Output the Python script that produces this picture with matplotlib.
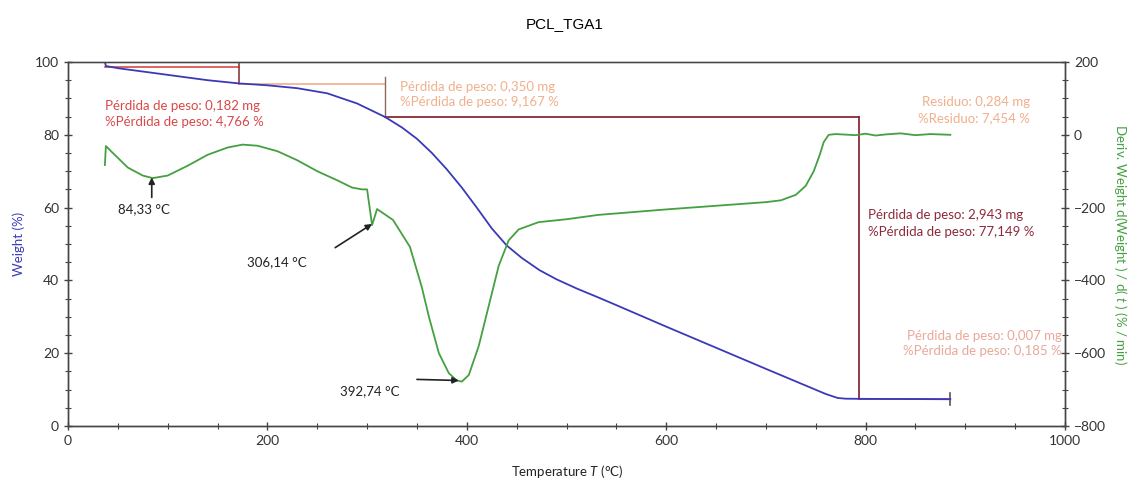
import matplotlib
matplotlib.use("Agg")
import matplotlib.pyplot as plt
from matplotlib.ticker import MultipleLocator

plt.rcParams['font.family'] = ['Lato', 'DejaVu Sans']
plt.rcParams['mathtext.fontset'] = 'custom'
plt.rcParams['mathtext.it'] = 'Lato:italic'
plt.rcParams['mathtext.rm'] = 'Lato'

# ---------------- data ----------------
temp_weight = [37, 38, 50, 80, 110, 140, 172, 200, 230, 260, 290, 318, 335, 350,
               365, 380, 395, 410, 425, 440, 455, 473, 490, 510, 532, 550, 600,
               650, 700, 740, 760, 772, 780, 800, 850, 885]
weight = [100.0, 98.9, 98.3, 97.2, 96.1, 95.0, 94.1, 93.6, 92.8, 91.4, 88.6, 84.9,
          82.0, 78.9, 75.0, 70.5, 65.5, 60.0, 54.3, 49.6, 46.2, 42.8, 40.3, 37.8,
          35.3, 33.2, 27.3, 21.5, 15.7, 11.1, 8.8, 7.7, 7.5, 7.45, 7.4, 7.35]

temp_deriv = [37, 38, 45, 60, 75, 85, 100, 120, 140, 160, 175, 190, 210, 230, 250,
              270, 285, 295, 300, 305, 310, 326, 343, 355, 362, 372, 382, 390, 395,
              402, 412, 422, 432, 442, 452, 472, 500, 532, 600, 650, 700, 715, 730,
              740, 748, 754, 758, 763, 770, 790, 800, 810, 820, 835, 850, 865, 885]
deriv = [-83, -31, -50, -90, -112, -119, -112, -85, -55, -35, -27, -30, -45, -70,
         -100, -125, -145, -150, -150, -248, -204, -234, -308, -420, -500, -600,
         -655, -675, -678, -660, -580, -470, -360, -290, -260, -240, -232, -220,
         -205, -195, -185, -180, -165, -140, -100, -55, -20, 0, 2, -1, 3, -2, 1,
         4, -1, 2, 0]

# step annotation segments (temperature, weight)
step1_t = [37, 172]
step1_w = [98.6, 98.6]
step1_v = [100, 94.0]
step2_t = [172, 318]
step2_w = [94.0, 94.0]
step2_v = [95.8, 84.9]
step3_t = [318, 793]
step3_w = [84.9, 84.9]
step3_v = [84.9, 7.45]
step4_t = [793, 885]
step4_w = [7.45, 7.45]

peak_labels = ["84,33 °C", "306,14 °C", "392,74 °C"]

# ---------------- figure ----------------
fig = plt.figure(figsize=(11.29, 4.8), dpi=100)
ax = fig.add_axes([68/1129, 1 - 426/480, (1065 - 68)/1129, (426 - 62)/480])
ax2 = ax.twinx()

blue = '#3a3ab8'
green = '#44a040'
red = '#d94848'
salmon = '#f0b08c'
maroon = '#8c2a3a'
pink = '#e8a89a'
purple = '#b0508a'

ax.plot(temp_weight, weight, color=blue, lw=1.3, zorder=3)
ax2.plot(temp_deriv, deriv, color=green, lw=1.3, zorder=3)

# step lines
ax.plot(step1_t, step1_w, color=red, lw=1.2)
ax.plot([172, 172], step1_v, color='#8c3a3a', lw=1.2)
ax.plot(step2_t, step2_w, color=salmon, lw=1.2)
ax.plot([318, 318], step2_v, color='#8c6a5a', lw=1.0)
ax.plot(step3_t, step3_w, color=maroon, lw=1.3)
ax.plot([793, 793], step3_v, color=maroon, lw=1.3)
ax.plot(step4_t, step4_w, color=purple, lw=1.2)
ax.plot([885, 885], [5.8, 9.1], color='#555555', lw=1.2)

fs = 9.5
ax.text(37, 89.5, "Pérdida de peso: 0,182 mg\n%Pérdida de peso: 4,766 %",
        color=red, fontsize=fs, va='top', ha='left', linespacing=1.35)
ax.text(333, 94.8, "Pérdida de peso: 0,350 mg\n%Pérdida de peso: 9,167 %",
        color=salmon, fontsize=fs, va='top', ha='left', linespacing=1.35)
ax.text(965, 90.6, "Residuo: 0,284 mg\n%Residuo: 7,454 %",
        color=salmon, fontsize=fs, va='top', ha='right', linespacing=1.35)
ax.text(802, 59.7, "Pérdida de peso: 2,943 mg\n%Pérdida de peso: 77,149 %",
        color=maroon, fontsize=fs, va='top', ha='left', linespacing=1.5)
ax.text(997, 26.5, "Pérdida de peso: 0,007 mg\n%Pérdida de peso: 0,185 %",
        color=pink, fontsize=fs, va='top', ha='right', linespacing=1.35)

# peak annotations (on derivative axis)
arrow = dict(arrowstyle='-|>', color='#222222', lw=1.2, mutation_scale=9,
             shrinkA=0, shrinkB=0)
ax2.annotate("", xy=(84, -117), xytext=(84, -172), arrowprops=arrow)
ax2.text(50, -205, peak_labels[0], fontsize=fs, color='#222222', va='center')
ax2.annotate("", xy=(305, -245), xytext=(268, -310), arrowprops=arrow)
ax2.text(180, -350, peak_labels[1], fontsize=fs, color='#222222', va='center')
ax2.annotate("", xy=(392, -675), xytext=(350, -672), arrowprops=arrow)
ax2.text(273, -705, peak_labels[2], fontsize=fs, color='#222222', va='center')

# axes formatting
ax.set_xlim(0, 1000)
ax.set_ylim(0, 100)
ax2.set_ylim(-800, 200)
ax.xaxis.set_major_locator(MultipleLocator(200))
ax.xaxis.set_minor_locator(MultipleLocator(50))
ax.yaxis.set_major_locator(MultipleLocator(20))
ax.yaxis.set_minor_locator(MultipleLocator(5))
ax2.yaxis.set_major_locator(MultipleLocator(200))
ax2.yaxis.set_minor_locator(MultipleLocator(50))

spine_c = '#444444'
for a in (ax, ax2):
    for s in a.spines.values():
        s.set_color(spine_c)
        s.set_linewidth(1.0)
    a.tick_params(which='major', direction='inout', length=6, width=1.0,
                  colors=spine_c, labelsize=10, labelcolor='#333333')
    a.tick_params(which='minor', direction='inout', length=4, width=0.8,
                  colors=spine_c)
ax.spines['top'].set_color('#888888')

fig.text(567/1129, 1 - 471/480, "Temperature $T$ (°C)", fontsize=9.5,
         color='#222222', ha='center', va='center')
fig.text(19/1129, 1 - 244/480, "Weight (%)", fontsize=9.5, color=blue,
         rotation=90, ha='center', va='center')
fig.text(1120/1129, 1 - 244/480, "Deriv. Weight d(Weight ) / d( $t$ ) (% / min)",
         fontsize=9.5, color=green, rotation=270, ha='center', va='center')
fig.suptitle("PCL_TGA1", fontsize=11, y=0.965, family='Liberation Sans')

fig.savefig("out.png", dpi=100, facecolor='white')
